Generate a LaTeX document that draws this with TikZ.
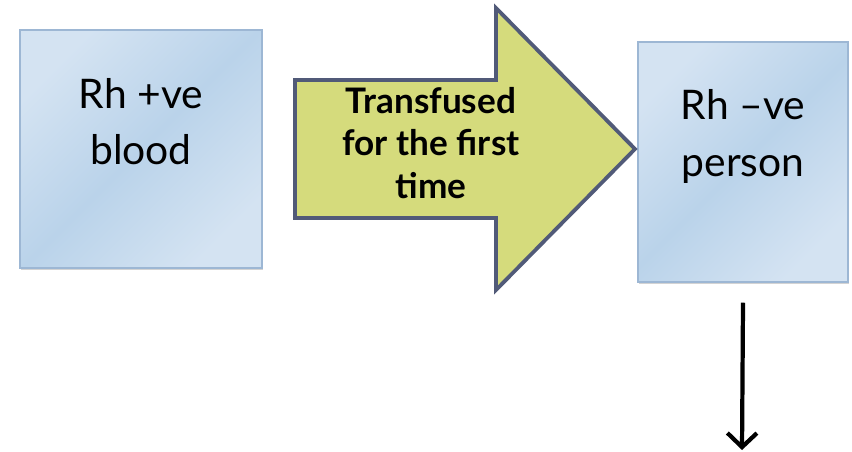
\documentclass[tikz,border=0pt]{standalone}
\usepackage{fontspec}
\setmainfont{Lato}
\usetikzlibrary{arrows.meta,shadows}
\definecolor{boxlight}{HTML}{D4E3F2}
\definecolor{boxmid}{HTML}{BAD3EA}
\definecolor{boxline}{HTML}{9DB7D4}
\definecolor{arrowfill}{HTML}{D5DB7C}
\definecolor{arrowline}{HTML}{515A78}
\tikzset{
  rhbox/.style={draw=boxline, line width=1pt,
    left color=boxlight, right color=boxlight, middle color=boxmid, shading angle=45,
    drop shadow={opacity=0.35, shadow xshift=0.6pt, shadow yshift=-1.6pt},
    inner sep=0pt},
  rhtext/.style={align=center, inner sep=0pt, font=\fontsize{29}{40}\selectfont},
  bigarrow/.style={fill=arrowfill, draw=arrowline, line width=2.7pt, line join=miter},
  downarrow/.style={line width=3pt, -{Straight Barb[length=10pt, width=21pt, line width=3pt]}}
}
\begin{document}
\begin{tikzpicture}[x=0.025cm, y=-0.025cm]
        \useasboundingbox (0, 0) rectangle (852, 452);
        % boxes
        \node [rhbox, minimum width=6.05cm, minimum height=5.95cm] (blood) at (141, 149) {};
        \node [rhbox, minimum width=5.25cm, minimum height=6cm] (person) at (743, 162) {};
        \node [rhtext, anchor=north] (bloodtext) at (141, 78) {Rh +ve\\blood};
        \node [rhtext, anchor=north, font=\fontsize{29}{41}\selectfont] (persontext) at (743, 89) {Rh –ve\\person};
        % transfusion arrow
        \draw [bigarrow] (295, 80) -- (496, 80) -- (496, 8) -- (635, 149)
            -- (496, 290) -- (496, 218) -- (295, 218) -- cycle;
        \node [align=center, inner sep=0pt, font=\bfseries\fontsize{25}{30.5}\selectfont] (transfused) at (431, 143) {Transfused\\for the first\\time};
        % next step
        \coordinate (next) at (742, 450);
        \draw [downarrow] ([yshift=-0.5cm]person.south) -- (next);
    \end{tikzpicture}
\end{document}
